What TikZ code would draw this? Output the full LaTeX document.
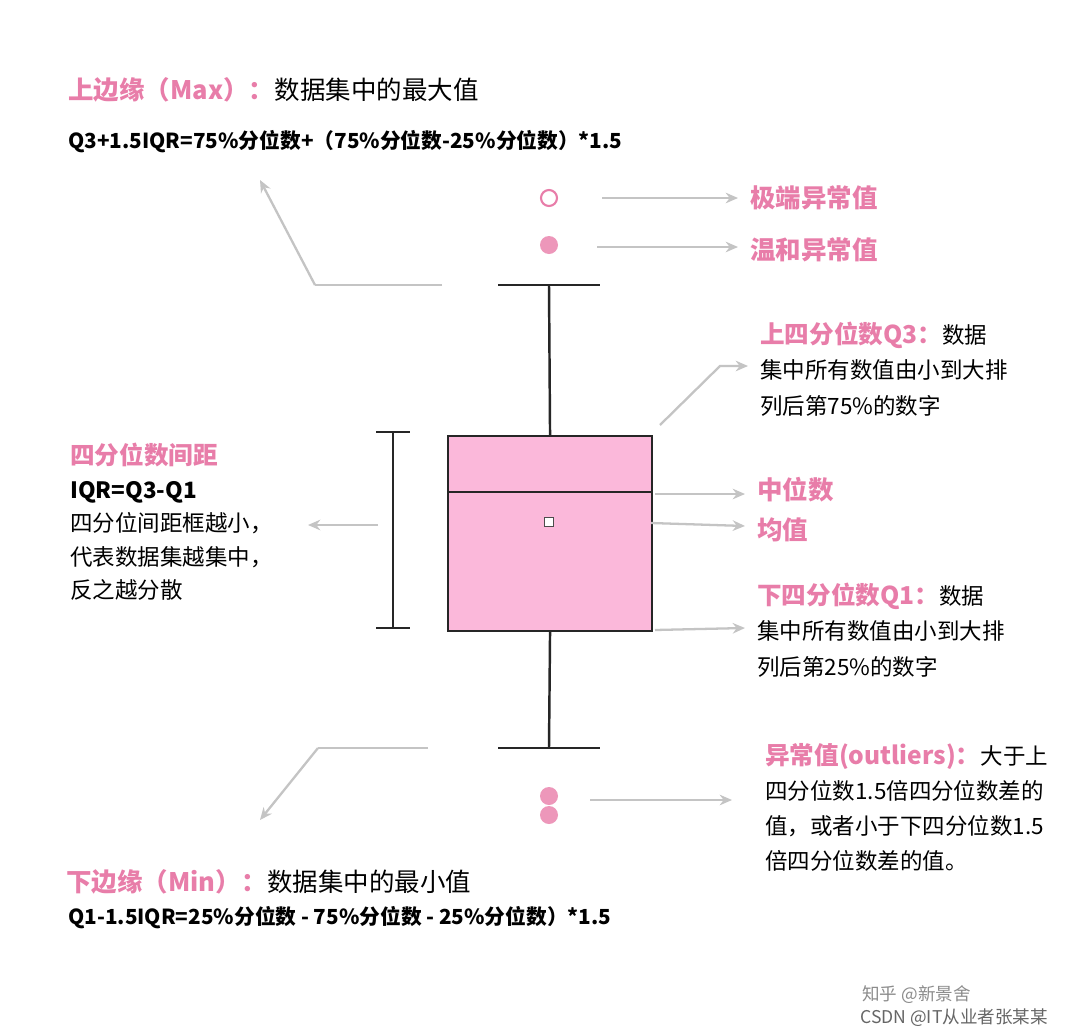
\documentclass[tikz,border=0pt]{standalone}
\usepackage{fontspec}
\setmainfont{Noto Sans CJK SC}
\usetikzlibrary{arrows.meta,positioning}
\definecolor{boxpink}{HTML}{FBB8DA}
\definecolor{labelpink}{HTML}{E87DA9}
\definecolor{arrowgray}{HTML}{C4C4C4}
\begin{document}
\begin{tikzpicture}[
    x = 0.02cm, y = -0.02cm, % pixel grid of the reference
    every node/.style = {inner sep=0pt, anchor=west},
    txt/.style = {font=\fontsize{12.8}{14}\selectfont},
    big/.style = {font=\fontsize{14.5}{16}\selectfont},
    head/.style = {font=\fontsize{14.5}{16}\selectfont\bfseries, text=labelpink},
    formula/.style = {font=\fontsize{11.8}{13}\selectfont\bfseries},
    pointer/.style = {draw=arrowgray, line width=1.3pt, -{Stealth[length=7pt,width=6pt]}},
    plain/.style = {draw=arrowgray, line width=1.3pt},
    whisk/.style = {draw=black!85, line width=1.4pt}
    ]

    \useasboundingbox[fill=white] (0,0) rectangle (1080,1035);

    % box and whiskers
    \node[draw=black!85, line width=1.2pt, fill=boxpink, minimum width=204*0.02cm,
          minimum height=195*0.02cm, anchor=north west] (box) at (447,435) {};
    \draw[whisk] (447,492) -- (651,492);
    \node[draw=black!70, fill=white, minimum size=5pt, anchor=center] (mean) at (549,522) {};
    \coordinate (captop) at (549,285);
    \coordinate (capbot) at (549,748);
    \draw[whisk] (box.north) -- (captop);
    \draw[whisk] (box.south) -- (capbot);
    \draw[whisk] (498,285) -- (600,285);
    \draw[whisk] (498,748) -- (600,748);

    % outliers
    \node[circle, draw=labelpink, line width=1.2pt, minimum size=16*0.02cm, anchor=center] (ext) at (549,198) {};
    \node[circle, fill=labelpink!80, minimum size=18*0.02cm, anchor=center] (mild) at (549,245) {};
    \node[circle, fill=labelpink!80, minimum size=18*0.02cm, anchor=center] (low1) at (549,796) {};
    \node[circle, fill=labelpink!80, minimum size=18*0.02cm, anchor=center] (low2) at (549,815) {};

    % IQR bracket
    \draw[whisk] (393,432) -- (393,628);
    \draw[whisk] (376,432) -- (410,432);
    \draw[whisk] (376,628) -- (410,628);

    % labels
    \node[head] (maxhead) at (68,90) {上边缘（Max）：};
    \node[big, right=0pt of maxhead] (maxtxt) {数据集中的最大值};
    \node[formula] (maxform) at (68,142) {Q3+1.5IQR=75\%分位数+（75\%分位数-25\%分位数）*1.5};
    \node[head] (exthead) at (750,198) {极端异常值};
    \node[head] (mildhead) at (750,250) {温和异常值};
    \node[txt, anchor=north west, align=left] (q3txt) at (760,322)
        {\textcolor{labelpink}{\bfseries\fontsize{14}{16}\selectfont 上四分位数Q3：}数据\\[6pt]集中所有数值由小到大排\\[6pt]列后第75\%的数字};
    \node[head] (medhead) at (757,490) {中位数};
    \node[head] (meanhead) at (757,530) {均值};
    \node[txt, anchor=north west, align=left] (q1txt) at (757,583)
        {\textcolor{labelpink}{\bfseries\fontsize{14}{16}\selectfont 下四分位数Q1：}数据\\[6pt]集中所有数值由小到大排\\[6pt]列后第25\%的数字};
    \node[txt, anchor=north west, align=left] (outtxt) at (765,743)
        {\textcolor{labelpink}{\bfseries\fontsize{14}{16}\selectfont 异常值(outliers)：}大于上\\[6pt]四分位数1.5倍四分位数差的\\[6pt]值，或者小于下四分位数1.5\\[6pt]倍四分位数差的值。};
    \node[txt, anchor=north west, align=left] (iqrtxt) at (70,443)
        {\textcolor{labelpink}{\bfseries\fontsize{14}{16}\selectfont 四分位数间距}\\[5pt]\textbf{IQR=Q3-Q1}\\[5pt]四分位间距框越小，\\[5pt]代表数据集越集中，\\[5pt]反之越分散};
    \node[head] (minhead) at (66,882) {下边缘（Min）：};
    \node[big, right=0pt of minhead] (mintxt) {数据集中的最小值};
    \node[formula] (minform) at (68,918) {Q1-1.5IQR=25\%分位数 - 75\%分位数 - 25\%分位数）*1.5};
    \node[font=\fontsize{10}{12}\selectfont, text=black!45] (zhihu) at (862,995) {知乎 @新景舍};
    \node[font=\fontsize{10}{12}\selectfont, text=black!60] (csdn) at (860,1018) {CSDN @IT从业者张某某};

    % pointers
    \coordinate (p1) at (602,198);  \coordinate (p1e) at (738,198);
    \coordinate (p2) at (597,247);  \coordinate (p2e) at (738,247);
    \draw[pointer] (p1) -- (p1e);
    \draw[pointer] (p2) -- (p2e);
    \coordinate (tl1) at (442,285); \coordinate (tl2) at (315,285); \coordinate (tl3) at (260,180);
    \draw[plain] (tl1) -- (tl2);
    \draw[pointer] (tl2) -- (tl3);
    \coordinate (bl1) at (428,748); \coordinate (bl2) at (318,748); \coordinate (bl3) at (260,820);
    \draw[plain] (bl1) -- (bl2);
    \draw[pointer] (bl2) -- (bl3);
    \coordinate (q3a) at (660,425); \coordinate (q3b) at (720,366); \coordinate (q3c) at (748,366);
    \draw[pointer] (q3a) -- (q3b) -- (q3c);
    \coordinate (meda) at (655,494); \coordinate (mede) at (745,494);
    \draw[pointer] (meda) -- (mede);
    \coordinate (meana) at (651,523); \coordinate (meane) at (745,526);
    \draw[pointer] (meana) -- (meane);
    \coordinate (q1a) at (655,630); \coordinate (q1e) at (745,628);
    \draw[pointer] (q1a) -- (q1e);
    \coordinate (outa) at (590,800); \coordinate (oute) at (732,800);
    \draw[pointer] (outa) -- (oute);
    \coordinate (iqra) at (378,525); \coordinate (iqre) at (308,525);
    \draw[pointer] (iqra) -- (iqre);
\end{tikzpicture}
\end{document}
